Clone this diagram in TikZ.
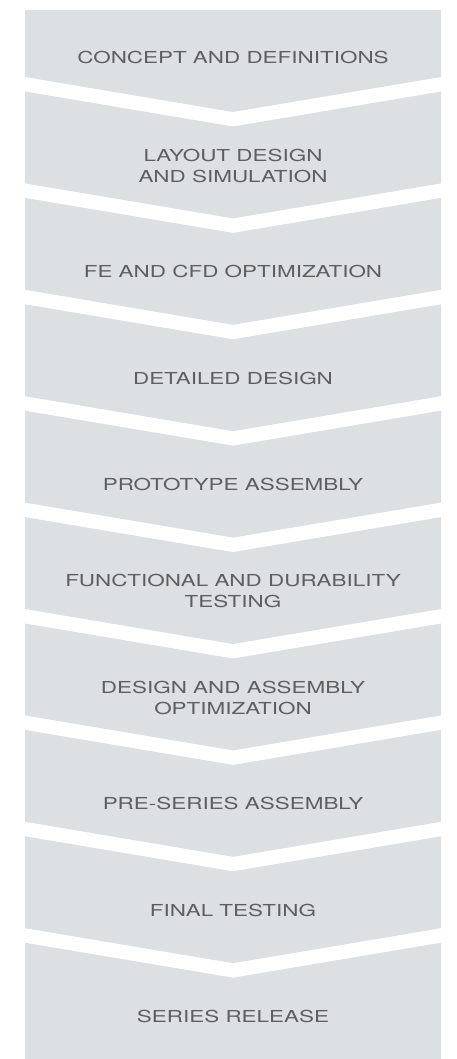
\documentclass[tikz,border=0pt]{standalone}
\usepackage{fontspec}
\newfontfamily\stagefont[FakeStretch=1.36]{TeX Gyre Heros}
\usetikzlibrary{positioning}
\definecolor{mgray}{HTML}{DCE0E3}
\definecolor{mtext}{HTML}{5E5E5E}
\tikzset{stagebox/.style = {fill=mgray, draw=none},
         stagetext/.style = {text=mtext, align=center, inner sep=0pt,
                             font=\stagefont\fontsize{16.5}{21}\selectfont}}

\begin{document}
\begin{tikzpicture}[x=1pt, y=-1pt]
    \useasboundingbox (0,0) rectangle (456,1059);
    % first stage, flat top
    \fill [stagebox] (25,10) -- (441,10) -- (441,77) -- (233,112) -- (25,77) -- cycle;
    % middle stages
    \foreach \k in {0,...,7} {
        \pgfmathsetmacro{\t}{91.5+106.4*\k}
        \pgfmathsetmacro{\b}{\t+91.9}
        \fill [stagebox] (25,\t) -- (233,\t+35) -- (441,\t) -- (441,\b)
            -- (233,\b+35) -- (25,\b) -- cycle;
    }
    % last stage, flat bottom
    \fill [stagebox] (25,942.7) -- (233,977.7) -- (441,942.7) -- (441,1059) -- (25,1059) -- cycle;

    \node [stagetext] (concept) at (233,57) {CONCEPT AND DEFINITIONS};
    \node [stagetext] (layout) at (233,165.5) {LAYOUT DESIGN\\AND SIMULATION};
    \node [stagetext] (fecfd) at (233,271.9) {FE AND CFD OPTIMIZATION};
    \node [stagetext] (detail) at (233,378.3) {DETAILED DESIGN};
    \node [stagetext] (proto) at (233,484.7) {PROTOTYPE ASSEMBLY};
    \node [stagetext] (functest) at (233,591.1) {FUNCTIONAL AND DURABILITY\\TESTING};
    \node [stagetext] (optim) at (233,697.5) {DESIGN AND ASSEMBLY\\OPTIMIZATION};
    \node [stagetext] (preseries) at (233,803.9) {PRE-SERIES ASSEMBLY};
    \node [stagetext] (finaltest) at (233,910.3) {FINAL TESTING};
    \node [stagetext] (release) at (233,1016.7) {SERIES RELEASE};
\end{tikzpicture}
\end{document}
